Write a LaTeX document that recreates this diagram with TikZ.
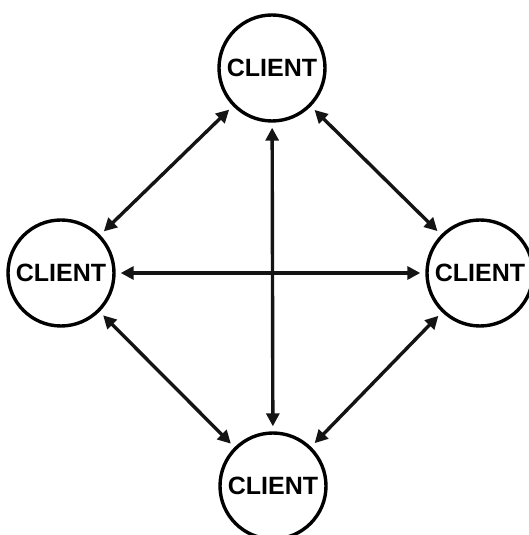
\documentclass[tikz,border=0pt]{standalone}
\usepackage{fontspec}
\setmainfont{Liberation Sans}
\usetikzlibrary{arrows.meta}
\tikzset{
  client/.style={circle, draw=black, line width=3.4pt, fill=white,
    minimum size=106pt, inner sep=0pt, font=\bfseries\fontsize{25}{25}\selectfont},
  link/.style={line width=3.4pt, draw=black!92,
    {Triangle[length=13pt,width=13pt]}-{Triangle[length=13pt,width=13pt]},
    shorten >=5pt, shorten <=5pt}
}
\begin{document}
\begin{tikzpicture}[x=1pt,y=1pt]
  \useasboundingbox (0,0) rectangle (528,535);
  % four peers
  \node[client] (top)    at (272,467) {CLIENT};
  \node[client] (left)   at (61,262)  {CLIENT};
  \node[client] (right)  at (480,262) {CLIENT};
  \node[client] (bottom) at (273,49)  {CLIENT};
  % full mesh of links
  \draw[link] (top) -- (left);
  \draw[link] (top) -- (right);
  \draw[link] (bottom) -- (left);
  \draw[link] (bottom) -- (right);
  \draw[link] (left) -- (right);
  \draw[link] (top) -- (bottom);
\end{tikzpicture}
\end{document}
